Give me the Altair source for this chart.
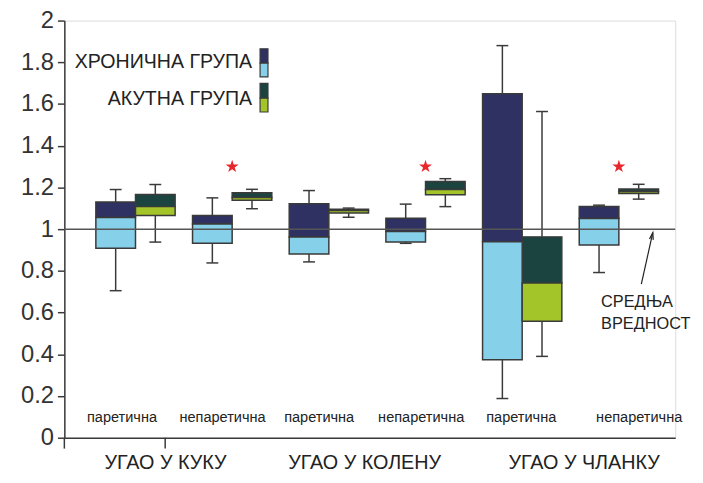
import altair as alt
import pandas as pd

# ---------------- data ----------------
joints = ["УГАО У КУКУ", "УГАО У КОЛЕНУ", "УГАО У ЧЛАНКУ"]
sides = ["паретична", "непаретична", "паретична", "непаретична", "паретична", "непаретична"]

chronic_max = [1.19, 1.15, 1.185, 1.12, 1.88, 1.115]
chronic_q3 = [1.13, 1.065, 1.122, 1.052, 1.649, 1.109]
chronic_med = [1.056, 1.025, 0.962, 0.989, 0.940, 1.051]
chronic_q1 = [0.908, 0.932, 0.881, 0.938, 0.374, 0.924]
chronic_min = [0.705, 0.838, 0.843, 0.932, 0.188, 0.792]

acute_max = [1.214, 1.191, 1.101, 1.242, 1.564, 1.215]
acute_q3 = [1.166, 1.174, 1.096, 1.229, 0.963, 1.193]
acute_med = [1.108, 1.152, 1.089, 1.190, 0.742, 1.180]
acute_q1 = [1.065, 1.139, 1.077, 1.165, 0.558, 1.171]
acute_min = [0.938, 1.098, 1.057, 1.108, 0.390, 1.144]

significant = [False, True, False, True, False, True]
star_level = 1.30
reference_level = 1.0

legend_labels = ["ХРОНИЧНА ГРУПА", "АКУТНА ГРУПА"]
annotation = ["СРЕДЊА", "ВРЕДНОСТ"]
y_ticks = [0, 0.2, 0.4, 0.6, 0.8, 1, 1.2, 1.4, 1.6, 1.8, 2]

# ---------------- layout helpers ----------------
BW = 0.41                                   # box width in slot units
side_label_shift = [-0.14, -0.10, -0.10, -0.045, -0.01, 0.21]
joint_label_pos = [0.31, 2.37, 4.64]

rows = []
for i in range(6):
    rows.append(dict(group="chronic", pos=i, x1=i - BW, x2=i, xc=i - BW / 2,
                     mx=chronic_max[i], q3=chronic_q3[i], med=chronic_med[i],
                     q1=chronic_q1[i], mn=chronic_min[i]))
    rows.append(dict(group="acute", pos=i, x1=i, x2=i + BW, xc=i + BW / 2,
                     mx=acute_max[i], q3=acute_q3[i], med=acute_med[i],
                     q1=acute_q1[i], mn=acute_min[i]))
df = pd.DataFrame(rows)
df["group2"] = df["group"]

lab_df = pd.DataFrame({"pos": [i + side_label_shift[i] for i in range(6)], "side": sides})
joint_df = pd.DataFrame({"pos": joint_label_pos, "joint": joints})
star_df = pd.DataFrame({"pos": [i for i in range(6) if significant[i]],
                        "y": [star_level] * sum(significant)})
ref_df = pd.DataFrame({"y": [reference_level]})
one = pd.DataFrame({"a": [0]})

FONT = "Liberation Sans"
DARK = "#3a3a3a"
xs = alt.Scale(domain=[-0.736, 5.583], nice=False, zero=False)
ys = alt.Scale(domain=[0, 2], nice=False, zero=False)
xa = alt.Axis(labels=False, ticks=False, grid=False, title=None,
              domainColor=DARK, domainWidth=1.5)
ya = alt.Axis(values=y_ticks, format=".1~f", grid=False, title=None,
              labelFont=FONT, labelFontSize=24, labelColor="#333333",
              tickSize=7, tickWidth=1.5, tickColor=DARK,
              domainColor=DARK, domainWidth=1.5, labelPadding=4)


def X(f):
    return alt.X(f, scale=xs, axis=xa, title=None)


def Y(f):
    return alt.Y(f, scale=ys, axis=ya, title=None)


base = alt.Chart(df)

upper = base.mark_rect(stroke=DARK, strokeWidth=1.5).encode(
    x=X("x1:Q"), x2="x2:Q", y=Y("q3:Q"), y2="med:Q",
    fill=alt.Fill("group:N", scale=alt.Scale(domain=["chronic", "acute"],
                                             range=["#2f3162", "#1b4441"]), legend=None),
)
lower = base.mark_rect(stroke=DARK, strokeWidth=1.5).encode(
    x=X("x1:Q"), x2="x2:Q", y=Y("med:Q"), y2="q1:Q",
    fill=alt.Fill("group2:N", scale=alt.Scale(domain=["chronic", "acute"],
                                              range=["#87d0ea", "#a3c52a"]), legend=None),
)
wh_up = base.mark_rule(color=DARK, strokeWidth=1.5).encode(
    x=X("xc:Q"), y=Y("mx:Q"), y2="q3:Q")
wh_dn = base.mark_rule(color=DARK, strokeWidth=1.5).encode(
    x=X("xc:Q"), y=Y("q1:Q"), y2="mn:Q")
cap_up = base.mark_tick(orient="horizontal", size=12, thickness=1.5, color=DARK, opacity=1).encode(
    x=X("xc:Q"), y=Y("mx:Q"))
cap_dn = base.mark_tick(orient="horizontal", size=12, thickness=1.5, color=DARK, opacity=1).encode(
    x=X("xc:Q"), y=Y("mn:Q"))

ref = alt.Chart(ref_df).mark_rule(color="#555555", strokeWidth=1.5).encode(y=Y("y:Q"))

STAR = ("M0,-1L0.2245,-0.309L0.951,-0.309L0.363,0.118L0.588,0.809L0,0.382"
        "L-0.588,0.809L-0.363,0.118L-0.951,-0.309L-0.2245,-0.309Z")
stars = alt.Chart(star_df).mark_point(shape=STAR, filled=True, color="#e8262c",
                                      size=190, opacity=1, strokeWidth=0).encode(
    x=X("pos:Q"), y=Y("y:Q"))

side_text = alt.Chart(lab_df).mark_text(font=FONT, fontSize=14.7, color="#222222",
                                        baseline="middle").encode(
    x=X("pos:Q"), y=alt.value(402), text="side:N")

joint_text = alt.Chart(joint_df).mark_text(font=FONT, fontSize=20, color="#222222",
                                           baseline="middle").encode(
    x=X("pos:Q"), y=alt.value(448), text="joint:N")

# small axis ticks below the x axis
tick_a = alt.Chart(one).mark_rule(color=DARK, strokeWidth=1.5).encode(
    x=alt.value(0), y=alt.value(422), y2=alt.value(433))
tick_b = alt.Chart(one).mark_rule(color=DARK, strokeWidth=1.5).encode(
    x=alt.value(102), y=alt.value(422), y2=alt.value(433))


# legend
def sw(y1, y2, color):
    return alt.Chart(one).mark_rect(stroke=DARK, strokeWidth=1.2, fill=color).encode(
        x=alt.value(198), x2=alt.value(206), y=alt.value(y1), y2=alt.value(y2))


leg = [sw(28.5, 43, "#2f3162"), sw(43, 57, "#87d0ea"),
       sw(63.5, 78.5, "#1b4441"), sw(78.5, 92.5, "#a3c52a")]
leg_t1 = alt.Chart(one).mark_text(font=FONT, fontSize=19.8, color="#222222", align="right",
                                  baseline="middle").encode(
    x=alt.value(190), y=alt.value(42), text=alt.value(legend_labels[0]))
leg_t2 = alt.Chart(one).mark_text(font=FONT, fontSize=19.8, color="#222222", align="right",
                                  baseline="middle").encode(
    x=alt.value(190), y=alt.value(79), text=alt.value(legend_labels[1]))

# annotation arrow
arrow_line = alt.Chart(one).mark_rule(color="#222222", strokeWidth=1.2).encode(
    x=alt.value(583.7), y=alt.value(266.5), x2=alt.value(595.3), y2=alt.value(214.5))
arrow_head = alt.Chart(one).mark_point(shape="M-0.55,1L0,-1L0.55,1", filled=False,
                                       color="#222222", strokeWidth=1.2, size=50,
                                       angle=12, opacity=1).encode(
    x=alt.value(594.6), y=alt.value(218))
ann1 = alt.Chart(one).mark_text(font=FONT, fontSize=16.5, color="#222222", align="left",
                                baseline="middle").encode(
    x=alt.value(543), y=alt.value(285), text=alt.value(annotation[0]))
ann2 = alt.Chart(one).mark_text(font=FONT, fontSize=16.5, color="#222222", align="left",
                                baseline="middle").encode(
    x=alt.value(543), y=alt.value(307), text=alt.value(annotation[1]))

chart = alt.layer(
    upper, lower, wh_up, wh_dn, cap_up, cap_dn, ref, stars, side_text, joint_text,
    tick_a, tick_b, *leg, leg_t1, leg_t2, arrow_line, arrow_head, ann1, ann2
).resolve_scale(fill="independent").properties(
    width=618, height=422,
    autosize=alt.AutoSizeParams(type="none"),
    padding={"left": 57, "top": 10, "right": 20, "bottom": 37},
).configure_view(stroke=None).configure(background="white")

chart.save("out.html", embed_options={"renderer": "svg", "actions": False})
